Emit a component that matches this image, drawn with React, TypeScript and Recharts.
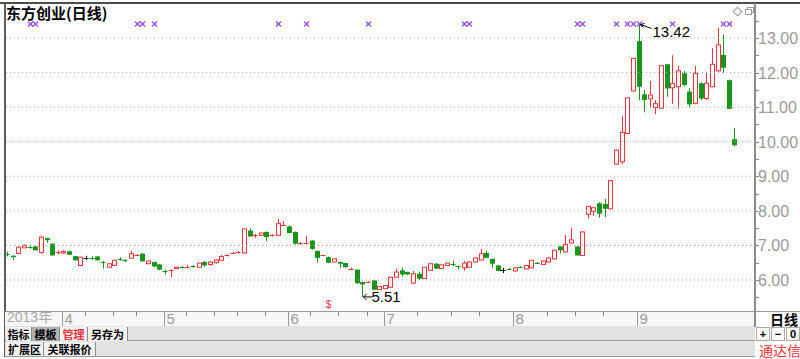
import React from "react";
import { ComposedChart, Bar, XAxis, YAxis, ReferenceLine } from "recharts";

// daily candles, 2013 (Mar tail .. Sep)
const opens = [
  6.76, 6.7, 6.77, 6.93, 6.96, 6.97, 6.8, 7.21, 7.05, 6.79,
  6.78, 6.83, 6.69, 6.42, 6.64, 6.65, 6.68, 6.53, 6.37, 6.42,
  6.62, 6.58, 6.63, 6.7, 6.76, 6.47, 6.52, 6.45, 6.27, 6.27,
  6.33, 6.38, 6.38, 6.4, 6.37, 6.52, 6.45, 6.5, 6.57, 6.7,
  6.77, 6.79, 6.78, 7.43, 7.28, 7.29, 7.39, 7.28, 7.29, 7.57,
  7.55, 7.39, 7.05, 7.07, 7.14, 6.84, 6.7, 6.66, 6.52, 6.52,
  6.49, 6.32, 6.3, 5.94, 5.93, 5.99, 5.72, 5.75, 5.79, 6.08,
  6.28, 6.23, 5.91, 6.18, 6.04, 6.28, 6.47, 6.33, 6.42, 6.46,
  6.4, 6.35, 6.37, 6.52, 6.58, 6.78, 6.61, 6.42, 6.3, 6.33,
  6.26, 6.38, 6.32, 6.35, 6.5, 6.45, 6.52, 6.61, 6.97, 6.81,
  7.07, 6.97, 6.71, 7.9, 7.99, 8.22, 8.2, 8.06, 9.35, 9.42,
  10.24, 11.47, 12.91, 11.37, 11.24, 10.99, 10.97, 12.24, 11.56, 11.59,
  11.98, 11.45, 11.11, 11.69, 11.25, 11.59, 12.05, 12.51, 11.78, 10.07,
];
const closes = [
  6.75, 6.66, 6.95, 7.0, 6.95, 6.86, 7.24, 7.15, 6.71, 6.8,
  6.82, 6.73, 6.57, 6.66, 6.64, 6.64, 6.57, 6.52, 6.47, 6.57,
  6.61, 6.57, 6.76, 6.71, 6.54, 6.55, 6.39, 6.3, 6.26, 6.28,
  6.37, 6.37, 6.39, 6.39, 6.49, 6.42, 6.52, 6.58, 6.68, 6.71,
  6.78, 6.8, 7.48, 7.26, 7.29, 7.36, 7.24, 7.29, 7.63, 7.58,
  7.36, 7.05, 7.06, 7.08, 6.9, 6.64, 6.71, 6.5, 6.61, 6.47,
  6.37, 6.33, 5.91, 5.87, 5.94, 5.72, 5.81, 5.84, 6.08, 6.23,
  6.16, 6.16, 6.18, 6.04, 6.37, 6.47, 6.33, 6.44, 6.49, 6.45,
  6.39, 6.49, 6.52, 6.64, 6.76, 6.64, 6.47, 6.26, 6.3, 6.32,
  6.35, 6.37, 6.42, 6.57, 6.49, 6.55, 6.64, 6.86, 6.86, 7.03,
  7.16, 6.71, 7.39, 8.13, 8.09, 7.92, 8.06, 8.88, 9.76, 10.27,
  11.27, 12.41, 11.59, 11.21, 11.35, 11.1, 12.2, 11.54, 11.69, 12.05,
  11.64, 11.08, 11.98, 11.25, 11.69, 12.24, 12.8, 12.14, 10.95, 9.9,
];
const highs = [
  6.82, 6.72, 6.97, 7.02, 7.02, 6.99, 7.29, 7.22, 7.06, 6.86,
  6.86, 6.85, 6.7, 6.67, 6.7, 6.69, 6.69, 6.55, 6.48, 6.58,
  6.66, 6.6, 6.85, 6.75, 6.78, 6.56, 6.53, 6.46, 6.3, 6.31,
  6.38, 6.4, 6.43, 6.43, 6.5, 6.55, 6.53, 6.6, 6.72, 6.74,
  6.81, 6.84, 7.49, 7.5, 7.33, 7.37, 7.4, 7.33, 7.77, 7.7,
  7.58, 7.4, 7.1, 7.28, 7.15, 6.85, 6.73, 6.68, 6.62, 6.53,
  6.5, 6.36, 6.31, 5.96, 5.97, 6.0, 5.82, 5.85, 6.09, 6.33,
  6.36, 6.24, 6.26, 6.24, 6.38, 6.48, 6.49, 6.45, 6.5, 6.56,
  6.42, 6.55, 6.53, 6.65, 6.9, 6.85, 6.62, 6.43, 6.35, 6.35,
  6.36, 6.4, 6.43, 6.58, 6.52, 6.56, 6.66, 6.87, 6.98, 7.3,
  7.5, 6.98, 7.4, 8.14, 8.1, 8.25, 8.35, 8.89, 9.77, 10.74,
  11.28, 12.42, 13.42, 11.5, 11.75, 11.2, 12.21, 12.25, 12.5, 12.2,
  12.05, 11.55, 12.2, 11.72, 12.0, 12.7, 13.3, 13.1, 11.8, 10.4,
];
const lows = [
  6.68, 6.58, 6.75, 6.92, 6.9, 6.85, 6.76, 7.08, 6.7, 6.74,
  6.76, 6.72, 6.56, 6.41, 6.58, 6.58, 6.56, 6.33, 6.36, 6.4,
  6.56, 6.52, 6.62, 6.69, 6.52, 6.46, 6.38, 6.28, 6.16, 6.08,
  6.32, 6.33, 6.35, 6.35, 6.36, 6.38, 6.41, 6.48, 6.56, 6.68,
  6.75, 6.77, 6.77, 7.25, 7.22, 7.28, 7.12, 7.26, 7.28, 7.56,
  7.35, 7.02, 7.02, 7.05, 6.88, 6.5, 6.69, 6.49, 6.51, 6.35,
  6.36, 6.3, 5.88, 5.51, 5.92, 5.7, 5.71, 5.74, 5.78, 6.07,
  6.1, 6.15, 5.88, 6.0, 6.03, 6.27, 6.32, 6.32, 6.41, 6.4,
  6.3, 6.27, 6.36, 6.51, 6.57, 6.63, 6.35, 6.25, 6.2, 6.29,
  6.25, 6.35, 6.31, 6.34, 6.47, 6.44, 6.51, 6.6, 6.77, 6.8,
  7.06, 6.7, 6.7, 7.78, 7.85, 7.8, 7.82, 8.05, 9.33, 9.35,
  10.23, 11.46, 11.2, 10.85, 11.0, 10.8, 10.96, 11.3, 11.1, 10.95,
  11.6, 11.0, 11.08, 11.2, 11.2, 11.58, 12.0, 12.0, 10.94, 9.85,
];

const monthStarts = [10, 28, 50, 67, 90, 112];
const monthLabels = ["4", "5", "6", "7", "8", "9"];
const weekTicks = [14, 19, 23, 32, 37, 41, 46, 54, 59, 64, 73, 79, 84, 96, 101, 106];
const signalIdx = [4, 5, 23, 24, 26, 48, 53, 64, 81, 82, 101, 102, 108, 110, 111, 112, 118, 127, 128];
const eventIdx = [57];
const priceLevels = [6, 7, 8, 9, 10, 11, 12, 13];
const priceTicks = [5.5, 6, 6.5, 7, 7.5, 8, 8.5, 9, 9.5, 10, 10.5, 11, 11.5, 12, 12.5, 13, 13.5];

const RED = "#f0323c";
const GREEN = "#17951d";
const PURPLE = "#9650ee";
const FONT = "'Liberation Sans', Arial, 'Noto Sans CJK SC', sans-serif";
const CJK = "'Noto Sans CJK SC', sans-serif";

const AXIS_X = 755;
const BAND_TOP = 312;
const SIGNAL_Y = 24;

const rows = opens.map((o, i) => ({
  i,
  open: o,
  close: closes[i],
  high: highs[i],
  low: lows[i],
  range: [lows[i], highs[i]],
}));

const maxIdx = highs.indexOf(Math.max(...highs));
const minIdx = lows.indexOf(Math.min(...lows));

const Candle = (props: any) => {
  const { x, y, width, height, payload } = props;
  const { open, close, high, low, i } = payload;
  const k = height / (high - low);
  const py = (p: number) => y + (high - p) * k;
  const c = Math.round(x + width / 2) + 0.5;
  const color = close > open ? RED : close < open ? GREEN : "#000";
  const top = py(Math.max(open, close));
  const bot = py(Math.min(open, close));
  const els: any[] = [];

  if (bot - top < 1.2) {
    els.push(<line key="w" x1={c} x2={c} y1={py(high)} y2={py(low)} stroke={color} />);
    els.push(<line key="d" x1={c - 3} x2={c + 2} y1={Math.round(top) + 0.5} y2={Math.round(top) + 0.5} stroke={color} />);
  } else if (close > open) {
    els.push(<line key="w1" x1={c} x2={c} y1={py(high)} y2={top} stroke={color} />);
    els.push(<line key="w2" x1={c} x2={c} y1={bot} y2={py(low)} stroke={color} />);
    els.push(<rect key="b" x={c - 2} y={top} width={4} height={bot - top} fill="#fff" stroke={color} />);
  } else {
    els.push(<line key="w" x1={c} x2={c} y1={py(high)} y2={py(low)} stroke={color} />);
    els.push(<rect key="b" x={c - 2.5} y={top} width={5} height={bot - top} fill={color} />);
  }

  if (signalIdx.includes(i)) {
    els.push(
      <g key="s" stroke={PURPLE} strokeWidth={1.4}>
        <line x1={c - 2.5} x2={c + 2.5} y1={SIGNAL_Y - 2.5} y2={SIGNAL_Y + 2.5} />
        <line x1={c - 2.5} x2={c + 2.5} y1={SIGNAL_Y + 2.5} y2={SIGNAL_Y - 2.5} />
      </g>
    );
  }
  if (eventIdx.includes(i)) {
    els.push(
      <text key="e" x={c} y={308} fill={RED} fontSize={10} textAnchor="middle" fontFamily={FONT}>
        $
      </text>
    );
  }
  if (i === maxIdx) {
    const hy = py(high);
    els.push(
      <g key="mx">
        <line x1={c + 1} y1={hy + 1} x2={c + 12} y2={hy + 5} stroke="#000" />
        <line x1={c + 1} y1={hy + 1} x2={c + 4} y2={hy + 4} stroke="#000" />
        <line x1={c + 1} y1={hy + 1} x2={c + 5} y2={hy} stroke="#000" />
        <text x={c + 13} y={hy + 14} fontSize={15} fill="#000" fontFamily={FONT}>
          {high.toFixed(2)}
        </text>
      </g>
    );
  }
  if (i === minIdx) {
    const ly = py(low);
    els.push(
      <g key="mn">
        <line x1={c + 1} y1={ly} x2={c + 10} y2={ly} stroke="#000" />
        <line x1={c + 1} y1={ly} x2={c + 4} y2={ly - 3} stroke="#000" />
        <line x1={c + 1} y1={ly} x2={c + 4} y2={ly + 3} stroke="#000" />
        <text x={c + 9} y={ly + 5} fontSize={15} fill="#000" fontFamily={FONT}>
          {low.toFixed(2)}
        </text>
      </g>
    );
  }
  return <g>{els}</g>;
};

const PriceTick = (props: any) => {
  const { y, payload } = props;
  const v = payload.value;
  const isInt = Math.abs(v - Math.round(v)) < 1e-6;
  return (
    <g>
      <line x1={AXIS_X} x2={AXIS_X + 4} y1={Math.round(y) + 0.5} y2={Math.round(y) + 0.5} stroke="#888" />
      {isInt && (
        <text x={AXIS_X + 3} y={y + 6} fontSize={16} fill="#9a9a9a" fontFamily={FONT}>
          {v.toFixed(2)}
        </text>
      )}
    </g>
  );
};

const DateTick = (props: any) => {
  const { x, payload } = props;
  const lx = Math.round(x) - 0.5;
  const m = monthStarts.indexOf(payload.value);
  if (m < 0) {
    return <line x1={lx} x2={lx} y1={BAND_TOP} y2={BAND_TOP + 4} stroke="#888" />;
  }
  return (
    <g>
      <line x1={lx} x2={lx} y1={BAND_TOP} y2={BAND_TOP + 14} stroke="#999" />
      <text x={lx + 2} y={BAND_TOP + 12} fontSize={15} fill="#9a9a9a" fontFamily={FONT}>
        {monthLabels[m]}
      </text>
    </g>
  );
};

const abs = (l: number, t: number, w: number, h: number, extra: any = {}) => ({
  position: "absolute" as const,
  left: l,
  top: t,
  width: w,
  height: h,
  boxSizing: "border-box" as const,
  ...extra,
});

const btn = (l: number, t: number, w: number, text: string, extra: any = {}) => (
  <div
    style={abs(l, t, w, 14, {
      fontFamily: CJK,
      fontSize: 11,
      fontWeight: 700,
      lineHeight: "14px",
      textAlign: "center",
      whiteSpace: "nowrap",
      borderRight: "1px solid #8a8a8a",
      ...extra,
    })}
  >
    {text}
  </div>
);

export default function App() {
  return (
    <div style={abs(0, 0, 800, 359, { background: "#fff", overflow: "hidden", fontFamily: FONT })}>
      {/* frame */}
      <div style={abs(0, 2, 800, 2, { background: "#4c4c4c" })} />
      <div style={abs(4, 3, 2, 354, { background: "#5c5c5c" })} />
      <div style={abs(AXIS_X - 1, 3, 2, BAND_TOP - 3, { background: "#8c8c8c" })} />
      <div style={abs(5, BAND_TOP - 1, 750, 16, { background: "#f7f7f7", borderTop: "1px solid #999", borderBottom: "1px solid #999" })} />

      <div style={abs(6, 3, 200, 20, { fontFamily: CJK, fontSize: 15, fontWeight: 700, lineHeight: "20px", color: "#000" })}>
        东方创业(日线)
      </div>
      <div style={abs(734, 8, 7, 7, { border: "1px solid #999", transform: "rotate(45deg)" })} />
      <div style={abs(747, 7, 7, 6, { border: "1px solid #999" })} />
      <div style={abs(745, 9, 7, 6, { border: "1px solid #999", background: "#fff" })} />

      <div style={{ position: "absolute", left: 0, top: 0 }}>
        <ComposedChart width={800} height={359} data={rows} margin={{ top: 8, right: 0, bottom: 31, left: 4 }}>
          {priceLevels.map((p) => (
            <ReferenceLine key={p} y={p} stroke="#a8a8a8" strokeDasharray="1 3" />
          ))}
          <XAxis
            dataKey="i"
            height={16}
            padding={{ left: 0, right: 18 }}
            axisLine={false}
            tickLine={false}
            ticks={[...monthStarts, ...weekTicks]}
            interval={0}
            tick={<DateTick />}
          />
          <YAxis
            orientation="right"
            width={45}
            domain={[5.074, 13.868]}
            allowDataOverflow
            ticks={priceTicks}
            interval={0}
            axisLine={false}
            tickLine={false}
            tick={<PriceTick />}
          />
          <Bar dataKey="range" isAnimationActive={false} shape={(p: any) => <Candle {...p} />} />
        </ComposedChart>
      </div>

      <div style={abs(7, 310, 60, 15, { fontSize: 14, color: "#a8a8a8", lineHeight: "15px", fontFamily: FONT })}>
        2013年
      </div>

      {/* toolbar */}
      <div style={abs(5, 326, 750, 15, { background: "#e2e2e2", borderBottom: "1px solid #999" })} />
      {btn(6, 327, 26, "指标", { background: "#f2f2f2" })}
      {btn(32, 327, 28, "模板", { background: "#b0b0b0" })}
      {btn(60, 327, 28, "管理", { background: "#f2f2f2", color: RED })}
      {btn(88, 327, 40, "另存为", { background: "#f2f2f2" })}
      <div style={abs(5, 341, 750, 16, { background: "#e2e2e2", borderBottom: "1px solid #999" })} />
      {btn(6, 342, 38, "扩展区", { background: "#f2f2f2" })}
      {btn(44, 342, 52, "关联报价", { background: "#f2f2f2" })}

      {/* right panel */}
      <div style={abs(AXIS_X - 1, BAND_TOP - 1, 46, 16, { borderTop: "1px solid #999", borderLeft: "2px solid #8c8c8c", fontFamily: CJK, fontSize: 14, fontWeight: 700, lineHeight: "15px", textAlign: "right", paddingRight: 2 })}>
        日线
      </div>
      {["+", "−", "0"].map((s, k) => (
        <div
          key={s}
          style={abs(AXIS_X + 1 + k * 15, 327, 14, 14, {
            border: "1px solid #aaa",
            background: "#fafafa",
            fontSize: 11,
            fontWeight: 700,
            lineHeight: "12px",
            textAlign: "center",
          })}
        >
          {s}
        </div>
      ))}
      <div style={abs(AXIS_X, 341, 46, 18, { fontFamily: CJK, fontSize: 14, color: RED, lineHeight: "18px", textAlign: "right" })}>
        通达信
      </div>
    </div>
  );
}
